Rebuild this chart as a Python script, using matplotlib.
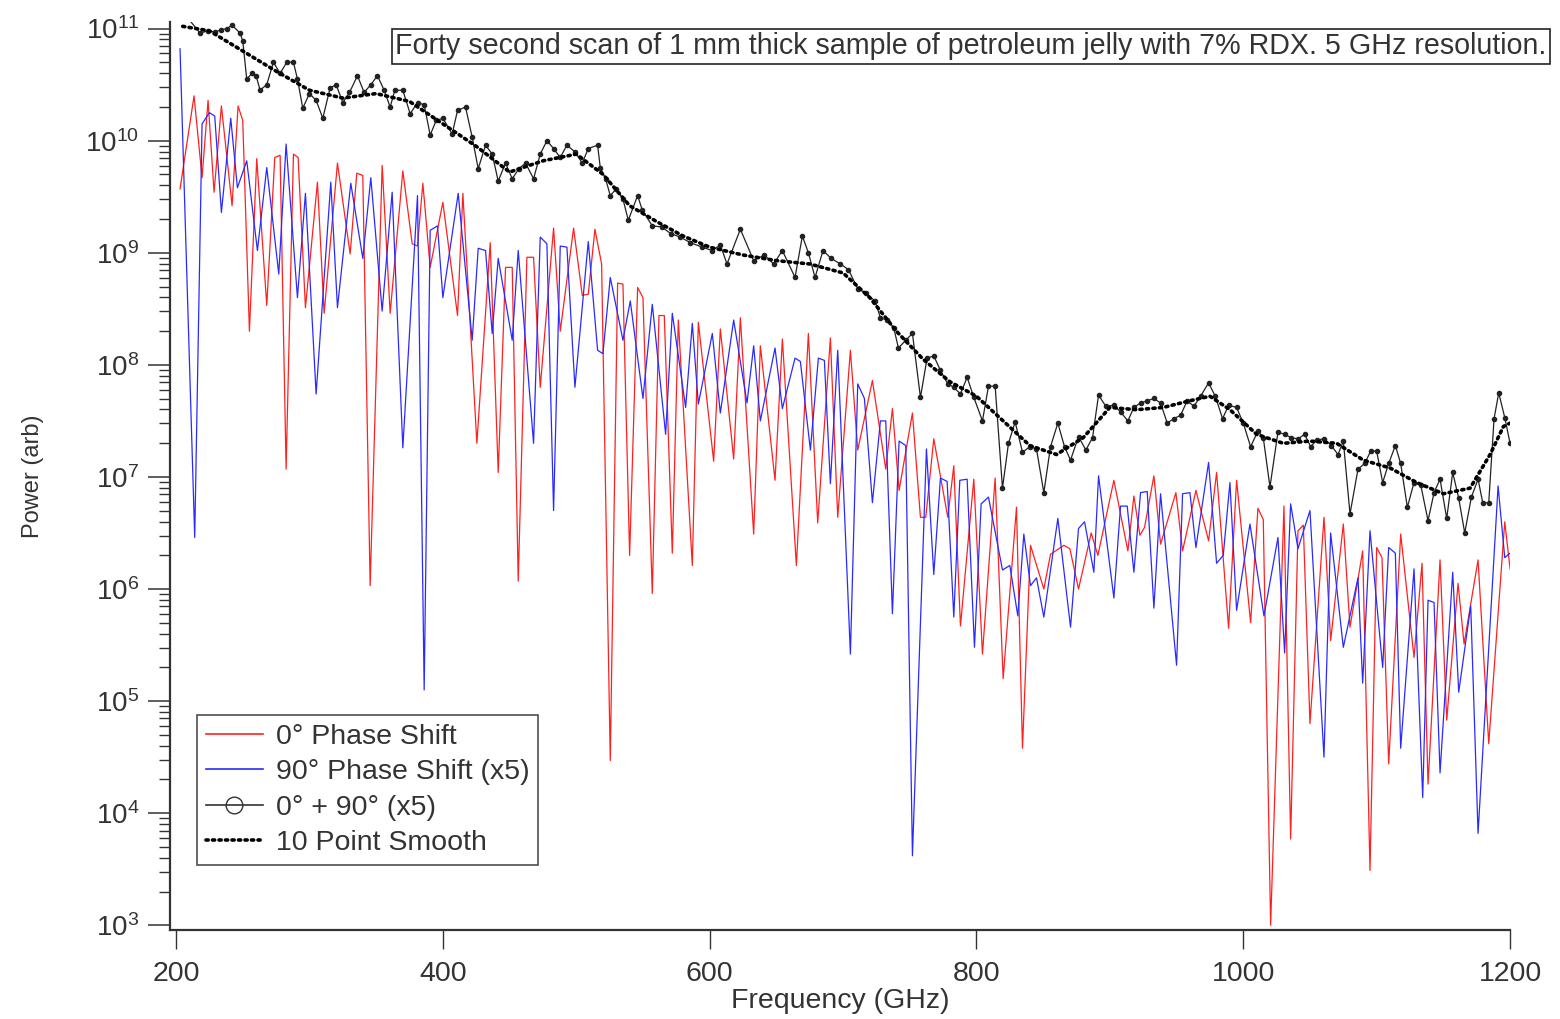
import matplotlib
matplotlib.use("Agg")
import matplotlib.pyplot as plt
import numpy as np
from matplotlib.lines import Line2D
from matplotlib.ticker import FixedLocator, NullFormatter

plt.rcParams["font.family"] = ["Liberation Sans", "DejaVu Sans"]
plt.rcParams["mathtext.fontset"] = "custom"
plt.rcParams["mathtext.rm"] = "Liberation Sans"

# 0 degree phase shift (GHz, log10 power)
red_f = [203, 213.5, 219.5, 224, 228.5, 234, 242, 246.5, 250, 255, 260.5, 268, 274, 278,
         282.5, 288, 291.5, 297, 306, 311, 321, 330.5, 335.5, 340, 345.5, 354.5, 360.5,
         370, 377, 381, 385, 390.5, 400, 411, 415, 425.5, 435.5, 441.5, 447, 452, 456.5,
         463, 468, 473, 483, 488, 498, 504.5, 509, 514, 519, 525.5, 531, 535, 540, 546,
         550, 557, 562, 566, 572, 576.5, 587, 591.5, 603, 608, 618, 623, 633, 638, 649,
         654.5, 665, 674, 681, 690.5, 696, 705.5, 711, 722, 732, 737, 742, 752, 758, 762,
         768, 778.5, 783, 788, 798, 804.5, 814, 820, 830, 834.5, 840.5, 850.5, 855.5,
         865.5, 870, 876.5, 886, 891, 903, 913.5, 918, 922.5, 926, 933, 938, 949.5, 954.5,
         964.5, 974, 980, 989, 995, 1005.5, 1011, 1015, 1020.5, 1030.5, 1035.5, 1041, 1045,
         1050, 1060.5, 1065.5, 1075, 1080, 1089.5, 1095, 1100, 1104, 1109, 1118, 1128, 1134,
         1138.5, 1147.5, 1152.5, 1161, 1165.5, 1176, 1184, 1196, 1200]
red_p = [9.57, 10.4, 9.67, 10.36, 9.54, 10.31, 9.42, 10.31, 10.18, 8.3, 9.84, 8.53, 9.85, 9.87,
         7.07, 9.88, 9.85, 8.51, 9.63, 8.46, 9.8, 8.99, 9.71, 9.69, 6.03, 9.78, 8.46,
         9.73, 9.08, 9.06, 9.62, 8.87, 9.45, 8.44, 9.53, 7.3, 9.09, 7.04, 8.87, 8.87, 6.07,
         8.96, 8.96, 7.8, 9.22, 8.3, 9.22, 8.62, 8.63, 9.21, 8.9, 4.47, 8.73, 8.72, 6.3, 8.69,
         8.6, 5.96, 8.44, 8.44, 6.32, 8.4, 6.21, 8.38, 7.14, 8.32, 7.16, 8.42, 6.49, 8.17, 6.97,
         8.23, 6.21, 8.28, 6.59, 8.24, 6.64, 8.13, 7.24, 7.86, 7.07, 7.61, 6.88, 7.57, 6.64, 6.64,
         7.34, 6.64, 7.1, 5.67, 6.98, 5.42, 6.99, 5.2, 6.73, 4.58, 6.39, 6.0, 6.31,
         6.39, 6.36, 6.0, 6.5, 6.3, 6.97, 6.34, 6.83, 6.48, 6.55, 7.01, 6.4, 6.86, 6.34,
         6.88, 6.43, 7.04, 5.65, 6.97, 5.7, 6.72, 6.62, 3.0, 6.74, 3.77, 6.52, 6.57,
         4.8, 6.64, 5.54, 6.58, 5.66, 6.34, 3.49, 6.37, 6.28, 4.44, 6.49, 5.39, 6.23,
         4.26, 6.26, 4.83, 6.05, 5.51, 6.26, 4.62, 6.6, 6.18]

# 90 degree phase shift x5
blue_f = [203, 214, 219.5, 225, 229, 234, 241, 246, 253, 261, 268, 277, 282.5, 291, 297, 305,
          316, 321, 331, 340, 346, 354.5, 362, 370, 381, 386, 390.5, 396, 400, 411.5, 422,
          426.5, 432, 437, 441.5, 452, 456.5, 468, 473, 478, 483, 488, 493, 499, 509, 516,
          520, 525.5, 535, 540.5, 550, 557, 567, 572, 582, 587, 591.5, 602, 608, 618, 628,
          633, 638, 649, 654.5, 664, 668, 675.5, 681.5, 686, 690.5, 696, 705.5, 711, 716,
          722, 728, 732, 737, 742, 747, 752, 762.5, 768, 773, 778, 783, 787.5, 793, 798.5,
          803.5, 809, 819.5, 825, 831, 835.5, 840.5, 845, 850.5, 861, 870.5, 876.5, 881,
          888, 891.5, 903, 908, 913, 918, 923, 928, 933, 938, 950, 954.5, 960, 964.5, 974,
          980, 985, 990, 995, 1005, 1015.5, 1026, 1031, 1035.5, 1041, 1050, 1060.5, 1065.5,
          1075, 1086, 1089.5, 1095, 1104.5, 1109, 1114, 1118, 1128, 1134.5, 1138.5, 1143,
          1147.5, 1157, 1161.5, 1170.5, 1176, 1191, 1196, 1200]
blue_p = [10.82, 6.46, 10.15, 10.25, 10.22, 9.36, 10.2, 9.58, 9.82, 9.02, 9.76, 8.81, 9.97, 8.6, 9.53, 7.74,
          9.63, 8.51, 9.62, 8.95, 9.67, 8.48, 9.54, 7.26, 9.51, 5.1, 9.2, 9.24, 8.6, 9.53, 8.22,
          9.04, 9.02, 8.28, 8.95, 8.22, 9.02, 7.3, 9.14, 9.08, 6.7, 9.06, 9.05, 7.8, 9.1, 8.13,
          8.1, 8.78, 8.22, 8.57, 7.7, 8.54, 7.38, 8.46, 7.62, 8.37, 7.65, 8.28, 7.57, 8.4, 7.66,
          8.17, 7.5, 8.15, 7.61, 8.06, 8.03, 7.24, 8.06, 8.04, 6.94, 8.13, 5.42, 7.83, 7.7,
          6.77, 7.5, 7.5, 5.78, 7.32, 7.28, 3.62, 7.25, 6.13, 6.99, 6.96, 5.75, 6.97, 6.98, 5.48,
          6.76, 6.82, 6.17, 6.21, 5.76, 6.49, 6.03, 6.1, 5.75, 6.63, 5.66, 6.54, 6.6,
          6.15, 7.01, 5.92, 6.74, 6.74, 6.15, 6.86, 6.87, 5.83, 6.85, 5.32, 6.85, 6.86, 6.37, 7.13,
          6.23, 6.3, 6.95, 5.81, 6.58, 5.76, 6.46, 5.43, 6.76, 6.36, 6.7, 4.5, 6.5,
          5.48, 6.1, 5.16, 6.52, 5.3, 6.37, 6.32, 4.58, 6.18, 4.14, 5.9, 5.88,
          4.36, 6.15, 5.08, 5.85, 3.82, 6.92, 6.28, 6.32]

# 0 + 90 (x5)
sum_f = [205, 218, 224, 229, 234, 238, 242, 248, 250, 253, 257, 260, 263, 268, 273, 278, 283,
         288, 291, 295, 300, 305, 310, 315.5, 320, 325, 330, 336, 341, 346, 351, 356, 360.5,
         364, 370, 375.5, 381, 386, 390.5, 395, 400, 407, 411, 417, 422, 426.5, 432, 437,
         441.5, 447, 452, 457, 462, 468, 473, 478, 483, 488, 493, 499, 504.5, 509, 516, 518,
         522, 525.5, 530, 535, 539, 546, 549.5, 557, 564, 571, 578, 585.5, 594.5, 602, 608,
         613, 623, 633, 641, 648, 654.5, 664, 669.5, 674, 679, 685, 691, 698, 704, 711, 717,
         724, 728, 733, 738, 741.5, 747, 752, 758, 763, 768, 773, 778.5, 783, 788, 793, 798,
         804.5, 809, 814, 819.5, 824, 829, 834.5, 840, 845, 850.5, 855.5, 861, 866, 870.5,
         876.5, 882, 887, 891.5, 897, 903, 908, 913.5, 918, 923, 928, 933, 938, 943, 948,
         953, 958, 963, 968, 974, 979, 984.5, 989, 995, 1000, 1005.5, 1011, 1015, 1020, 1026,
         1031, 1036, 1041, 1046, 1050.5, 1055, 1060.5, 1066, 1071, 1075, 1080, 1086, 1091,
         1095.5, 1100, 1104.5, 1109, 1114, 1118, 1123, 1128, 1133, 1138.5, 1143, 1147.5,
         1152.5, 1157, 1161.5, 1166, 1171, 1176, 1179.5, 1184, 1188, 1191.5, 1196, 1200]
sum_p = [11.15, 10.96, 10.98, 10.97, 10.99, 11.0, 11.03, 10.96, 10.89, 10.55, 10.6, 10.58, 10.45,
         10.5, 10.7, 10.6, 10.7, 10.7, 10.55, 10.29, 10.42, 10.36, 10.2, 10.47, 10.5, 10.34,
         10.43, 10.58, 10.43, 10.5, 10.58, 10.45, 10.3, 10.45, 10.45, 10.24, 10.34, 10.32,
         10.05, 10.18, 10.2, 10.06, 10.27, 10.3, 10.03, 9.75, 9.96, 9.88, 9.64, 9.8, 9.66,
         9.75, 9.8, 9.66, 9.88, 10.0, 9.93, 9.85, 9.96, 9.9, 9.8, 9.93, 9.96, 9.76, 9.66,
         9.51, 9.57, 9.48, 9.29, 9.51, 9.38, 9.24, 9.23, 9.17, 9.14, 9.09, 9.05, 9.02, 9.07,
         8.9, 9.21, 8.93, 8.98, 8.9, 9.02, 8.78, 9.15, 9.0, 8.78, 9.02, 8.95, 8.9, 8.85, 8.68,
         8.64, 8.57, 8.42, 8.4, 8.33, 8.15, 8.22, 8.28, 7.71, 8.06, 8.08, 7.95, 7.83, 7.8,
         7.74, 7.89, 7.71, 7.5, 7.81, 7.81, 6.9, 7.3, 7.49, 7.22, 7.27, 7.25, 6.86, 7.27,
         7.48, 7.27, 7.15, 7.36, 7.24, 7.35, 7.73, 7.63, 7.64, 7.58, 7.5, 7.62, 7.66, 7.68,
         7.7, 7.66, 7.48, 7.52, 7.55, 7.68, 7.63, 7.72, 7.84, 7.72, 7.52, 7.64, 7.62, 7.48,
         7.27, 7.41, 7.35, 6.91, 7.4, 7.38, 7.35, 7.34, 7.38, 7.27, 7.33, 7.34, 7.28, 7.2,
         7.32, 6.67, 7.07, 7.12, 7.23, 7.23, 6.95, 7.12, 7.28, 7.12, 6.73, 6.95, 6.93, 6.61,
         6.86, 6.98, 6.63, 7.04, 6.81, 6.5, 6.82, 6.98, 6.77, 6.77, 7.52, 7.75, 7.53, 7.3]

# 10 point smooth
smooth_f = [205, 225, 250, 275, 300, 325, 350, 375, 400, 425, 450, 475, 500, 520, 540, 560,
            580, 600, 625, 650, 675, 700, 720, 740, 760, 780, 800, 820, 840, 860, 880, 900,
            920, 940, 960, 975, 990, 1010, 1030, 1050, 1070, 1090, 1110, 1130, 1150, 1170,
            1185, 1195, 1200]
smooth_p = [11.02, 10.98, 10.8, 10.62, 10.45, 10.38, 10.42, 10.35, 10.15, 9.95, 9.72, 9.82,
            9.88, 9.7, 9.42, 9.28, 9.15, 9.05, 8.98, 8.93, 8.9, 8.82, 8.6, 8.3, 8.05, 7.85,
            7.72, 7.5, 7.28, 7.2, 7.35, 7.62, 7.6, 7.62, 7.68, 7.72, 7.6, 7.38, 7.3, 7.32,
            7.3, 7.15, 7.08, 6.95, 6.85, 6.9, 7.2, 7.45, 7.48]

decades = [3, 4, 5, 6, 7, 8, 9, 10, 11]

fig = plt.figure(figsize=(15.6, 10.19), dpi=100)
ax = fig.add_axes([0.109, 0.087, 0.859, 0.891])

ax.plot(red_f, 10 ** np.array(red_p), color="#ff2020", lw=0.9)
ax.plot(blue_f, 10 ** np.array(blue_p), color="#2a2aff", lw=0.9)
ax.plot(sum_f, 10 ** np.array(sum_p), color="#222222", lw=0.9, marker="o", ms=3.0,
        mfc="#222222", mec="#222222")
ax.plot(smooth_f, 10 ** np.array(smooth_p), color="black", lw=2.6, ls=(0, (0.6, 1.2)),
        dash_capstyle="round")

ax.set_yscale("log")
ax.set_xlim(195.5, 1200)
ax.set_ylim(10 ** 2.955, 10 ** 11.055)
ax.set_xticks([200, 400, 600, 800, 1000, 1200])
ax.yaxis.set_major_locator(FixedLocator([10.0 ** d for d in decades]))
minor = [m * 10.0 ** d for d in decades[:-1] for m in range(2, 10)]
ax.yaxis.set_minor_locator(FixedLocator(minor))
ax.yaxis.set_minor_formatter(NullFormatter())

for s in ["top", "right"]:
    ax.spines[s].set_visible(False)
for s in ["left", "bottom"]:
    ax.spines[s].set_linewidth(1.6)
    ax.spines[s].set_color("#333333")

ax.tick_params(axis="y", which="major", direction="out", length=16, width=1.1,
               labelsize=20, pad=6, color="#333333", labelcolor="#333333")
ax.tick_params(axis="y", which="minor", direction="out", length=8, width=1.0,
               color="#333333")
ax.tick_params(axis="x", which="major", direction="out", length=14, width=1.0,
               labelsize=20.5, pad=8, color="#333333", labelcolor="#333333")

ax.set_xlabel("Frequency (GHz)", fontsize=20.5, color="#333333", labelpad=1)
ax.set_ylabel("Power (arb)", fontsize=17, color="#333333", labelpad=30)

fig.text(395 / 1560, 1 - 46.5 / 1019,
         "Forty second scan of 1 mm thick sample of petroleum jelly with 7% RDX. 5 GHz resolution.",
         fontsize=20.6, color="#333333", ha="left", va="center",
         bbox=dict(boxstyle="square,pad=0.12", fc="white", ec="#222222", lw=1.2))

handles = [
    Line2D([], [], color="#ff2020", lw=1.2),
    Line2D([], [], color="#2a2aff", lw=1.2),
    Line2D([], [], color="#333333", lw=1.2, marker="o", ms=12, mfc="none", mec="#333333"),
    Line2D([], [], color="black", lw=2.6, ls=(0, (0.6, 1.2)), dash_capstyle="round"),
]
labels = ["0° Phase Shift", "90° Phase Shift (x5)", "0° + 90° (x5)", "10 Point Smooth"]
leg = ax.legend(handles, labels, loc="lower left", bbox_to_anchor=(0.02, 0.0716),
                borderaxespad=0, fontsize=20.5, frameon=True, fancybox=False,
                edgecolor="#222222", handlelength=2.0, handletextpad=0.45,
                labelspacing=0.33, borderpad=0.32, labelcolor="#333333")
leg.get_frame().set_linewidth(1.2)

fig.savefig("out.png", dpi=100)
